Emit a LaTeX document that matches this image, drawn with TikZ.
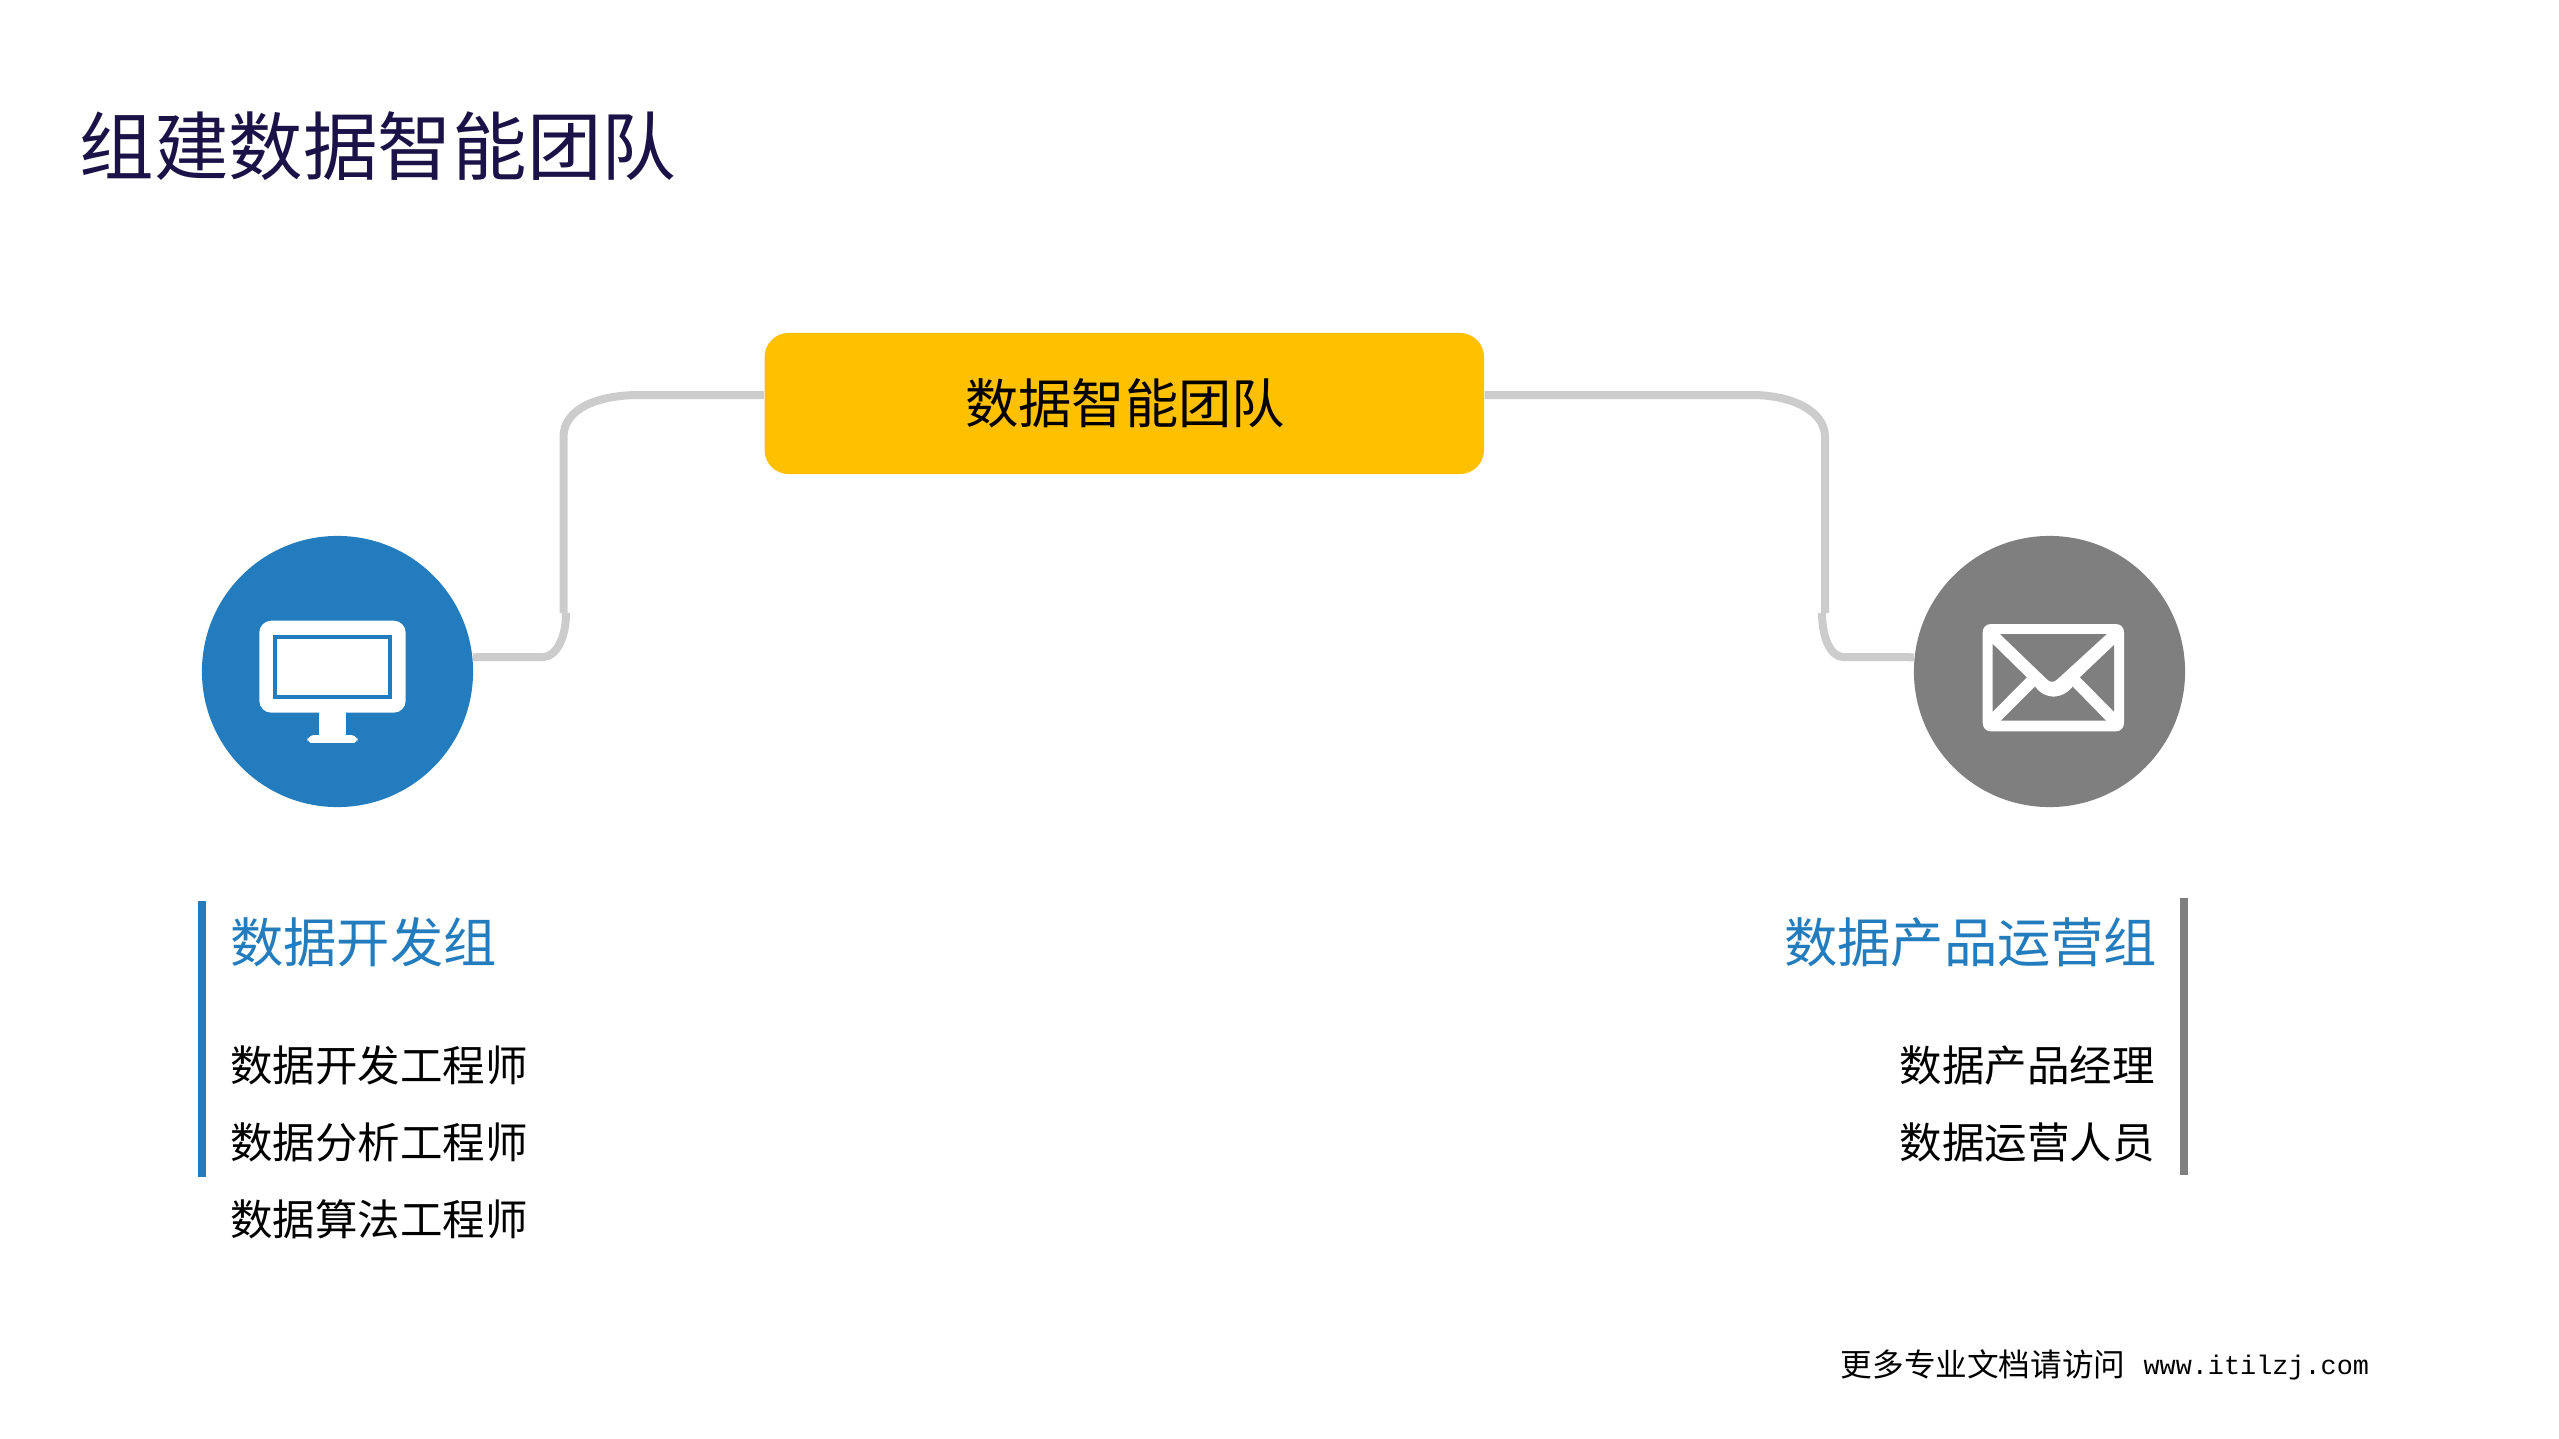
\documentclass[tikz,border=0pt]{standalone}
\usepackage{fontspec}
\setmainfont{Noto Sans CJK SC}
\newfontfamily\monofoot{Liberation Mono}
\definecolor{cBlue}{HTML}{237CBE}
\definecolor{cGray}{HTML}{7F7F7F}
\definecolor{cLine}{HTML}{CCCCCC}
\definecolor{cGold}{HTML}{FFC000}
\definecolor{cNavy}{HTML}{1B1248}
\tikzset{
    linkLine/.style={draw=cLine,line width=0.08cm},
    roundIcon/.style={circle,minimum size=2.71cm,inner sep=0pt},
    headText/.style={inner sep=0pt,font=\fontsize{15.16}{18}\selectfont},
    itemText/.style={inner sep=0pt,font=\fontsize{12.08}{15}\selectfont}
}
\begin{document}
\begin{tikzpicture}[x=0.01cm,y=-0.01cm]
\useasboundingbox[fill=white] (0,0) rectangle (2559,1439);

\node[anchor=west,inner sep=0pt,text=cNavy,font=\fontsize{21.2}{25}\selectfont] (titleText) at (79,146) {组建数据智能团队};

\node[fill=cGold,rounded corners=0.24cm,minimum width=7.19cm,minimum height=1.41cm,inner sep=0pt] (teamBox) at (1124.3,403.5) {};
\node[inner sep=0pt,font=\fontsize{15.16}{18}\selectfont] (teamText) at (1125,403) {数据智能团队};
\node[roundIcon,fill=cBlue] (devCircle) at (337.5,671.5) {};
\node[roundIcon,fill=cGray] (opsCircle) at (2049.5,671.5) {};

\coordinate (lTop) at (640,395);
\coordinate (lUp) at (563.5,437);
\coordinate (lDown) at (563.5,613);
\coordinate (lHook) at (566,613);
\coordinate (lFoot) at (543,657);
\coordinate (rTop) at (1752,395);
\coordinate (rUp) at (1825,437);
\coordinate (rDown) at (1825,613);
\coordinate (rHook) at (1822,613);
\coordinate (rFoot) at (1843,657);

\draw[linkLine] (teamBox.west |- lTop) -- (lTop) .. controls (595,395) and (563.5,410) .. (lUp) -- (lDown);
\draw[linkLine] (lHook) .. controls (566,640) and (555,657) .. (lFoot) -- (devCircle.6);
\draw[linkLine] (teamBox.east |- rTop) -- (rTop) .. controls (1790,395) and (1825,410) .. (rUp) -- (rDown);
\draw[linkLine] (rHook) .. controls (1822,640) and (1832,657) .. (rFoot) -- (opsCircle.174);

% monitor
\fill[white,rounded corners=0.12cm] (259.3,620.7) rectangle (405.7,712.7);
\draw[cBlue,line width=0.04cm] (275.3,636.7) rectangle (389.7,697);
\fill[white] (319.3,712) rectangle (345.7,736);
\fill[white,rounded corners=0.07cm] (307.3,744) -- (307.3,735) -- (357.7,735) -- (357.7,744) -- cycle;
\fill[cBlue] (300,743) rectangle (365,750);

% envelope
\fill[white,rounded corners=0.08cm] (1982.7,624) rectangle (2124,731.3);
\fill[cGray] (2000,634) -- (2106.7,634) -- (2058.3,678.3) .. controls (2054,683) and (2050,683) .. (2046,678.3) -- cycle;
\fill[cGray] (1992.7,644) -- (2026.7,677.3) -- (1992.7,711.7) -- cycle;
\fill[cGray] (2114,645) -- (2080,677.3) -- (2114,711.7) -- cycle;
\fill[cGray] (2001,720.7) -- (2035,686.7) .. controls (2045,700) and (2062,700) .. (2072.7,686.7) -- (2106,720.7) -- cycle;

\fill[cBlue] (198,901) rectangle (206,1177);
\fill[cGray] (2180,898) rectangle (2188,1175);

\node[headText,anchor=west,text=cBlue] (devHead) at (229.5,942) {数据开发组};
\node[headText,anchor=east,text=cBlue] (opsHead) at (2158,942) {数据产品运营组};

\foreach \v/\u/\t in
{devA/1065/数据开发工程师,
    devB/1142/数据分析工程师,
    devC/1219/数据算法工程师}
{
    \node[itemText,anchor=west] (\v) at (229.5,\u) {\t};
};
\foreach \v/\u/\t in
{opsA/1065/数据产品经理,
    opsB/1142/数据运营人员}
{
    \node[itemText,anchor=east] (\v) at (2155.5,\u) {\t};
};

\node[anchor=west,inner sep=0pt,font=\fontsize{9.0}{10}\selectfont] (footText) at (1840,1365) {更多专业文档请访问\hspace{0.18cm}{\monofoot\fontsize{7.63}{10}\selectfont\raisebox{0.02cm}{www.itilzj.com}}};
\end{tikzpicture}
\end{document}
